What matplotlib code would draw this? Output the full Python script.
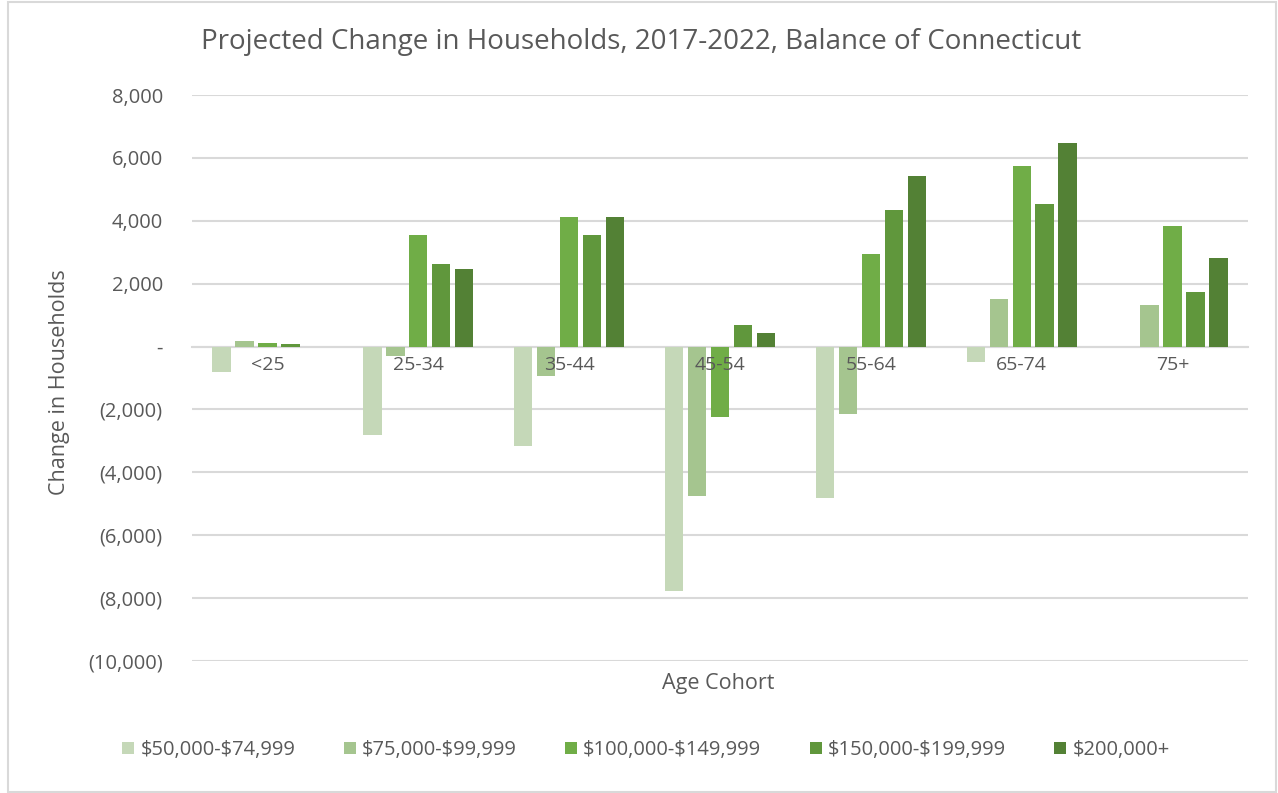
import matplotlib
matplotlib.use("Agg")
import matplotlib.pyplot as plt
import numpy as np
from matplotlib.patches import Rectangle
from matplotlib.ticker import FuncFormatter

categories = ["<25", "25-34", "35-44", "45-54", "55-64", "65-74", "75+"]
series_names = [r"\$50,000-\$74,999", r"\$75,000-\$99,999", r"\$100,000-\$149,999",
                r"\$150,000-\$199,999", r"\$200,000+"]
inc_50_75 = [-800, -2800, -3150, -7780, -4830, -500, 0]
inc_75_100 = [170, -290, -950, -4760, -2160, 1520, 1330]
inc_100_150 = [120, 3560, 4130, -2250, 2940, 5750, 3840]
inc_150_200 = [80, 2630, 3560, 670, 4350, 4540, 1750]
inc_200_plus = [0, 2480, 4130, 440, 5430, 6480, 2830]
series = [inc_50_75, inc_75_100, inc_100_150, inc_150_200, inc_200_plus]
colors = ["#c5d8b8", "#a5c58f", "#70ad47", "#60973c", "#538135"]

plt.rcParams['font.family'] = ['Open Sans', 'DejaVu Sans']
TXT = "#595959"
GRID = "#d9d9d9"

W, H = 1278, 793
fig = plt.figure(figsize=(W / 100, H / 100), dpi=100)
fig.patch.set_facecolor("white")

# chart border
fig.patches.append(Rectangle((8 / W, 1.5 / H), (1276 - 8) / W, (791 - 1.5) / H,
                             transform=fig.transFigure, fill=False,
                             edgecolor=GRID, linewidth=1.5))

ax = fig.add_axes([192 / W, 1 - 661 / H, (1248 - 192) / W, (661 - 95) / H])
x = np.arange(len(categories))
slot = 0.152
bw = 0.122
for i, (vals, c, name) in enumerate(zip(series, colors, series_names)):
    ax.bar(x + (i - 2) * slot, vals, width=bw, color=c, label=name, zorder=3)

ax.set_xlim(-0.5, len(categories) - 0.5)
ax.set_ylim(-10000, 8000)
ax.set_yticks(np.arange(-10000, 8001, 2000))


def acct(v, pos):
    v = int(round(v))
    if v == 0:
        return "-"
    if v < 0:
        return "({:,})".format(-v)
    return "{:,}".format(v)


ax.yaxis.set_major_formatter(FuncFormatter(acct))
ax.grid(axis='y', color=GRID, linewidth=1.5, zorder=0)
ax.set_axisbelow(True)
for s in ['top', 'right', 'left']:
    ax.spines[s].set_visible(False)
ax.spines['bottom'].set_position(('data', 0))
ax.spines['bottom'].set_color(GRID)
ax.spines['bottom'].set_linewidth(1.5)
ax.spines['bottom'].set_zorder(2)
ax.set_xticks(x)
ax.set_xticklabels(categories)
ax.xaxis.set_zorder(5)
ax.tick_params(axis='x', length=0, pad=7, labelsize=14, colors=TXT)
ax.tick_params(axis='y', length=0, pad=21, labelsize=14.5, colors=TXT)

fig.text(641 / W, 1 - 42 / H,
         "Projected Change in Households, 2017-2022, Balance of Connecticut",
         ha='center', va='center', fontsize=20, color=TXT)
fig.text(60 / W, 1 - 382 / H, "Change in Households", rotation=90,
         ha='center', va='center', fontsize=15.5, color=TXT)
fig.text(718 / W, 1 - 684 / H, "Age Cohort", ha='center', va='center',
         fontsize=15.5, color=TXT)

fig.legend(loc='center', bbox_to_anchor=(646 / W, 1 - 750 / H), ncol=5,
           frameon=False, fontsize=14.5, labelcolor=TXT, handlelength=0.6,
           handleheight=0.6, handletextpad=0.3, columnspacing=2.4)

fig.savefig("out.png", dpi=100)
